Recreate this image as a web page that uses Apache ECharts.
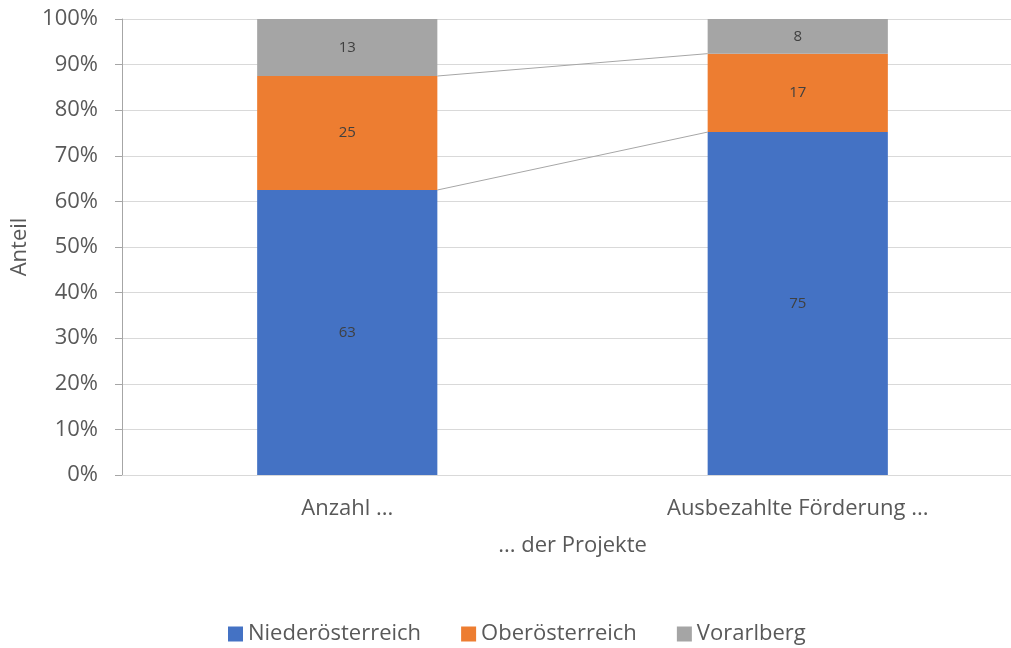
<!DOCTYPE html>
<html>
<head>
<meta charset="utf-8">
<script src="https://cdn.jsdelivr.net/npm/echarts@6/dist/echarts.min.js"></script>
<style>
  html, body { margin: 0; padding: 0; background: #fff; }
  #myChart { width: 1011px; height: 648px; }
</style>
</head>
<body>
<div id="myChart"></div>
<script>
// Anteil in Prozent (Labels gerundet)
const categories = ['Anzahl ...', 'Ausbezahlte Förderung ...']
const niederoesterreich = [62.5, 75.2]
const oberoesterreich = [25, 17.2]
const vorarlberg = [12.5, 7.6]

const seriesNames = ['Niederösterreich', 'Oberösterreich', 'Vorarlberg']
const colors = ['#4472C4', '#ED7D31', '#A5A5A5']
const font = '"Open Sans", Lato, sans-serif'

// Verbindungslinien zwischen den Säulen (kumulierte Grenzen)
const connectors = [
  [niederoesterreich[0], niederoesterreich[1]],
  [niederoesterreich[0] + oberoesterreich[0], niederoesterreich[1] + oberoesterreich[1]]
]

function barSeries(name, data, color) {
  return {
    name: name,
    type: 'bar',
    stack: 'total',
    barCategoryGap: '60%',
    data: data,
    itemStyle: { color: color },
    label: {
      show: true,
      position: 'inside',
      color: '#404040',
      fontSize: 15,
      fontFamily: font,
      formatter: p => Math.round(p.value)
    }
  }
}

const myChart = echarts.init(document.getElementById('myChart'))
myChart.setOption({
  animation: false,
  grid: { left: 122, width: 901, top: 19, bottom: 173, outerBoundsMode: 'none', containLabel: false },
  legend: {
    bottom: -2,
    left: 223,
    itemWidth: 15,
    itemHeight: 15,
    itemGap: 40,
    icon: 'rect',
    textStyle: { color: '#595959', fontSize: 22, fontFamily: font },
    data: seriesNames
  },
  xAxis: {
    type: 'category',
    data: categories,
    name: '... der Projekte',
    nameLocation: 'middle',
    nameGap: 60,
    nameTextStyle: { color: '#595959', fontSize: 22, fontFamily: font },
    axisLine: { lineStyle: { color: '#d9d9d9' } },
    axisTick: { show: false },
    axisLabel: { color: '#595959', fontSize: 22, fontFamily: font, margin: 23 }
  },
  yAxis: {
    type: 'value',
    min: 0,
    max: 100,
    interval: 10,
    name: 'Anteil',
    nameLocation: 'middle',
    nameGap: 89,
    nameTextStyle: { color: '#595959', fontSize: 22, fontFamily: font },
    axisLine: { show: true, lineStyle: { color: '#a6a6a6' } },
    axisTick: { show: true, length: 7, lineStyle: { color: '#a6a6a6' } },
    splitLine: { lineStyle: { color: '#d9d9d9' } },
    axisLabel: { color: '#595959', fontSize: 22, fontFamily: font, margin: 24, formatter: v => v + '%' }
  },
  series: [
    barSeries(seriesNames[0], niederoesterreich, colors[0]),
    barSeries(seriesNames[1], oberoesterreich, colors[1]),
    barSeries(seriesNames[2], vorarlberg, colors[2]),
    {
      type: 'custom',
      silent: true,
      data: connectors,
      renderItem: (params, api) => {
        const half = api.size([1, 0])[0] * 0.2
        const p1 = api.coord([0, api.value(0)])
        const p2 = api.coord([1, api.value(1)])
        return {
          type: 'line',
          shape: { x1: p1[0] + half, y1: p1[1], x2: p2[0] - half, y2: p2[1] },
          style: { stroke: '#a6a6a6', lineWidth: 1 }
        }
      }
    }
  ]
})
</script>
</body>
</html>
